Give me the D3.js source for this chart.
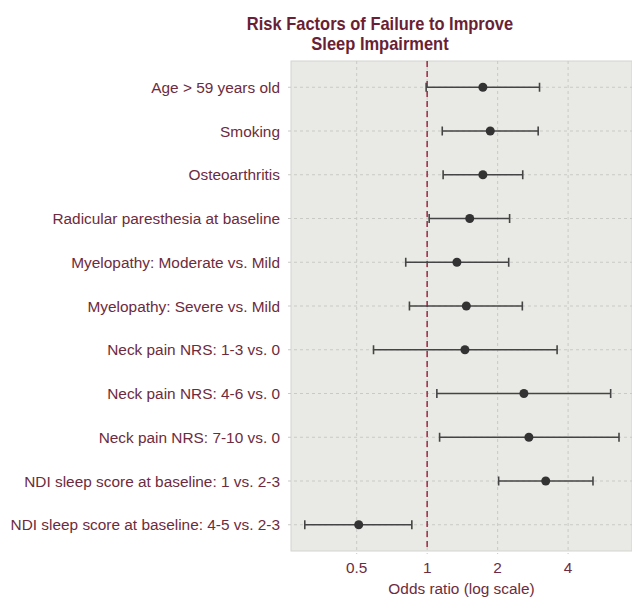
<!DOCTYPE html>
<html>
<head>
<meta charset="utf-8">
<style>
  body { margin: 0; background: #fff; }
  text { font-family: "Liberation Sans", Arial, sans-serif; }
</style>
</head>
<body>
<svg width="632" height="597"></svg>
<script src="https://d3js.org/d3.v7.min.js"></script>
<script>
const factors = [
    "Age > 59 years old",
    "Smoking",
    "Osteoarthritis",
    "Radicular paresthesia at baseline",
    "Myelopathy: Moderate vs. Mild",
    "Myelopathy: Severe vs. Mild",
    "Neck pain NRS: 1-3 vs. 0",
    "Neck pain NRS: 4-6 vs. 0",
    "Neck pain NRS: 7-10 vs. 0",
    "NDI sleep score at baseline: 1 vs. 2-3",
    "NDI sleep score at baseline: 4-5 vs. 2-3"
];
const oddsRatio = [1.73, 1.86, 1.73, 1.52, 1.34, 1.47, 1.45, 2.59, 2.72, 3.21, 0.51];
const ciLow     = [0.99, 1.16, 1.17, 1.02, 0.81, 0.84, 0.59, 1.10, 1.13, 2.02, 0.30];
const ciHigh    = [3.02, 2.98, 2.56, 2.25, 2.23, 2.55, 3.59, 6.08, 6.60, 5.11, 0.86];
const xTicks = [0.5, 1, 2, 4];

const rows = factors.map((f, i) => ({ f, or: oddsRatio[i], lo: ciLow[i], hi: ciHigh[i] }));

const svg = d3.select("svg");
const textCol = "#6d2b3d";
const panel = { left: 291, right: 632, top: 61, bottom: 551 };

const x = d3.scaleLog().domain([0.262, 7.5]).range([panel.left, panel.right]);
const y = d3.scalePoint().domain(factors).range([panel.top, panel.bottom]).padding(0.6);

// panel background
svg.append("rect")
    .attr("x", panel.left).attr("y", panel.top)
    .attr("width", panel.right - panel.left).attr("height", panel.bottom - panel.top)
    .attr("fill", "#e9eae5")
    .attr("stroke", "#d3d4cf");

// grid lines
svg.append("g").selectAll("line").data(xTicks).join("line")
    .attr("x1", d => x(d)).attr("x2", d => x(d))
    .attr("y1", panel.top).attr("y2", panel.bottom + 3)
    .attr("stroke", "#c9c9c5").attr("stroke-dasharray", "3,3");
svg.append("g").selectAll("line").data(factors).join("line")
    .attr("x1", panel.left - 3).attr("x2", panel.right)
    .attr("y1", d => y(d)).attr("y2", d => y(d))
    .attr("stroke", "#c9c9c5").attr("stroke-dasharray", "3,3");

// reference line at OR = 1
svg.append("line")
    .attr("x1", x(1)).attr("x2", x(1))
    .attr("y1", panel.top).attr("y2", panel.bottom)
    .attr("stroke", "#a0344c").attr("stroke-width", 1.6)
    .attr("stroke-dasharray", "6,4");

// error bars
const bars = svg.append("g").attr("stroke", "#444").attr("stroke-width", 1.6);
bars.selectAll(".ci").data(rows).join("line")
    .attr("x1", d => x(d.lo)).attr("x2", d => x(d.hi))
    .attr("y1", d => y(d.f)).attr("y2", d => y(d.f));
bars.selectAll(".capl").data(rows).join("line")
    .attr("x1", d => x(d.lo)).attr("x2", d => x(d.lo))
    .attr("y1", d => y(d.f) - 4.5).attr("y2", d => y(d.f) + 4.5);
bars.selectAll(".caph").data(rows).join("line")
    .attr("x1", d => x(d.hi)).attr("x2", d => x(d.hi))
    .attr("y1", d => y(d.f) - 4.5).attr("y2", d => y(d.f) + 4.5);

// points
svg.append("g").selectAll("circle").data(rows).join("circle")
    .attr("cx", d => x(d.or)).attr("cy", d => y(d.f))
    .attr("r", 4.5).attr("fill", "#333");

// y labels
svg.append("g").selectAll("text").data(factors).join("text")
    .attr("x", panel.left - 11).attr("y", d => y(d))
    .attr("dy", "0.36em")
    .attr("text-anchor", "end")
    .attr("font-size", 15.4)
    .attr("fill", textCol)
    .text(d => d);

// x tick labels
svg.append("g").selectAll("text").data(xTicks).join("text")
    .attr("x", d => x(d)).attr("y", 573)
    .attr("text-anchor", "middle")
    .attr("font-size", 15.4)
    .attr("fill", textCol)
    .text(d => d);

// axis title
svg.append("text")
    .attr("x", (panel.left + panel.right) / 2).attr("y", 594)
    .attr("text-anchor", "middle")
    .attr("font-size", 15.4)
    .attr("fill", textCol)
    .text("Odds ratio (log scale)");

// chart title (slightly condensed like the source)
const title = svg.append("g").attr("transform", "translate(380,0) scale(0.915,1)")
    .append("text")
    .attr("x", 0).attr("y", 30)
    .attr("text-anchor", "middle")
    .attr("font-size", 18)
    .attr("font-weight", "bold")
    .attr("fill", "#6a1f35");
title.append("tspan").attr("x", 0).text("Risk Factors of Failure to Improve");
title.append("tspan").attr("x", 0).attr("dy", 20).text("Sleep Impairment");
</script>
</body>
</html>
